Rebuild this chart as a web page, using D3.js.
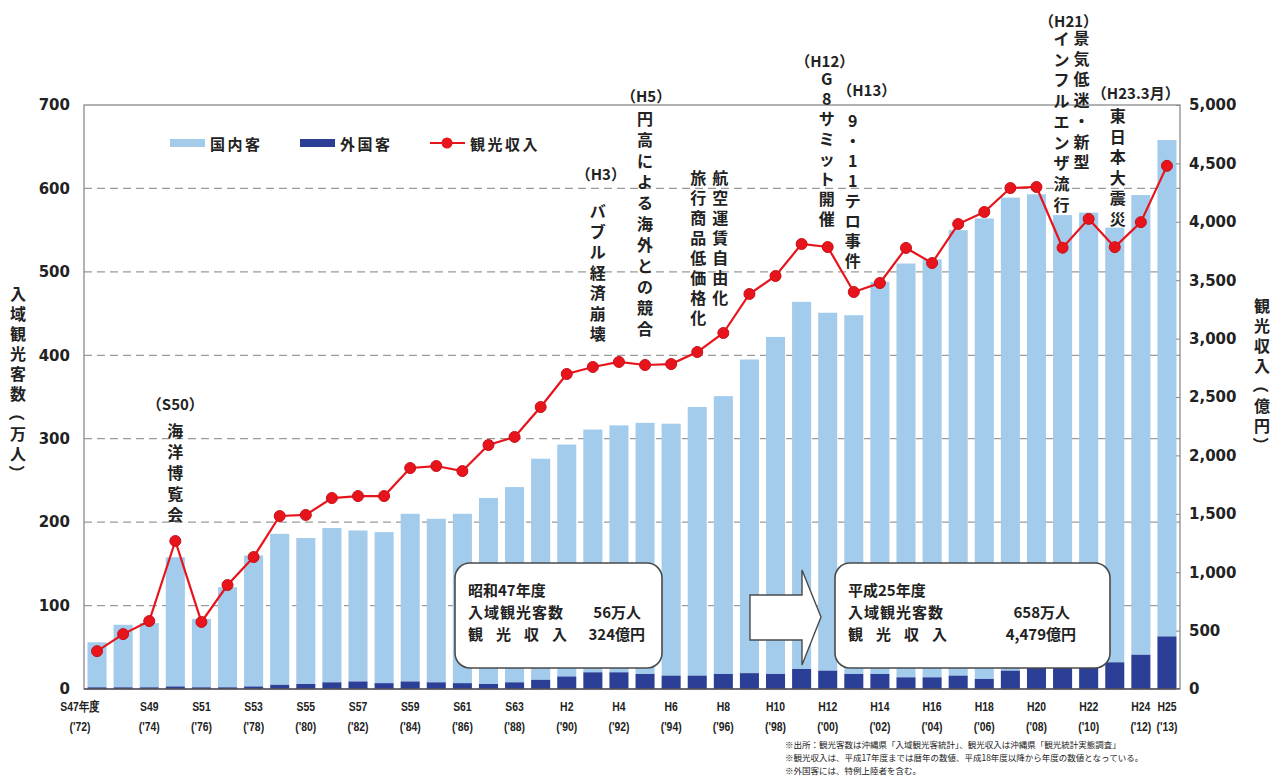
<!DOCTYPE html>
<html>
<head>
<meta charset="utf-8">
<script src="https://cdnjs.cloudflare.com/ajax/libs/d3/7.8.5/d3.min.js"></script>
<style>
body { margin: 0; background: #fff; }
text { font-family: "Noto Sans CJK JP", sans-serif; fill: #222; }
.yAxis text { font-family: "DejaVu Sans", sans-serif; font-weight: bold; font-size: 15px; fill: #222; }
.xText text { font-family: "Liberation Sans", sans-serif; font-weight: bold; font-size: 13px; }
</style>
</head>
<body>
<div id="chart"></div>
<script>
// 年度別 入域観光客数（万人）と観光収入（億円）
var foreign = [2, 2, 2, 3, 2, 2, 3, 5, 6, 8, 9, 7, 9, 8, 7, 6, 8, 11, 15, 20, 20, 18,
  16, 16, 18, 19, 18, 24, 22, 18, 18, 14, 14, 16, 12, 22, 26, 26, 28, 32, 41, 63];
var domestic = [54, 75, 77, 155, 82, 120, 157, 181, 175, 185, 181, 181, 201, 196, 203, 223,
  234, 265, 278, 291, 296, 301, 302, 322, 333, 376, 404, 440, 429, 430, 470, 496, 501,
  534, 552, 567, 567, 542, 543, 521, 551, 595];
var revenue = [324, 470, 582, 1267, 574, 890, 1130, 1481, 1490, 1635, 1652, 1652, 1892, 1909,
  1866, 2089, 2158, 2414, 2697, 2757, 2800, 2774, 2782, 2885, 3048, 3382, 3536, 3810, 3784,
  3399, 3476, 3776, 3647, 3981, 4084, 4289, 4298, 3778, 4025, 3783, 3997, 4479];

var tickIdx = [0, 2, 4, 6, 8, 10, 12, 14, 16, 18, 20, 22, 24, 26, 28, 30, 32, 34, 36, 38, 40, 41];
var tickTop = ["S47年度", "S49", "S51", "S53", "S55", "S57", "S59", "S61", "S63", "H2", "H4",
  "H6", "H8", "H10", "H12", "H14", "H16", "H18", "H20", "H22", "H24", "H25"];
var tickBot = ["('72)", "('74)", "('76)", "('78)", "('80)", "('82)", "('84)", "('86)", "('88)",
  "('90)", "('92)", "('94)", "('96)", "('98)", "('00)", "('02)", "('04)", "('06)", "('08)",
  "('10)", "('12)", "('13)"];

var leftTicks = [0, 100, 200, 300, 400, 500, 600, 700];
var rightTicks = [0, 500, 1000, 1500, 2000, 2500, 3000, 3500, 4000, 4500, 5000];

var eventIdx = [3, 19, 21, 23, 28, 29, 37, 39];
var eventLabels = ["（S50）", "（H3）", "（H5）", "", "（H12）", "（H13）", "（H21）", "（H23.3月）"];
var eventLines = [["海洋博覧会"], ["バブル経済崩壊"], ["円高による海外との競合"],
  ["旅行商品低価格化", "航空運賃自由化"], ["G8サミット開催"], ["9・11テロ事件"],
  ["インフルエンザ流行", "景気低迷・新型"], ["東日本大震災"]];

var legendNames = ["国内客", "外国客", "観光収入"];
var boxTitles = ["昭和47年度", "平成25年度"];
var boxVisitors = ["56万人", "658万人"];
var boxRevenue = ["324億円", "4,479億円"];
var notes = [
  "※出所：観光客数は沖縄県「入域観光客統計」、観光収入は沖縄県「観光統計実態調査」",
  "※観光収入は、平成17年度までは暦年の数値、平成18年度以降から年度の数値となっている。",
  "※外国客には、特例上陸者を含む。"
];

var width = 1281;
var height = 784;
var padL = 84, padR = 1180, padT = 105, padB = 689;
var lightBlue = "#a2cbec", darkBlue = "#2b3f96", red = "#e8141c";

var svg = d3.select("#chart").append("svg")
  .attr("width", width)
  .attr("height", height);

var x = d3.scaleBand()
  .domain(d3.range(domestic.length))
  .range([padL, padR])
  .paddingInner(0.27)
  .paddingOuter(0.135);
var yL = d3.scaleLinear().domain([0, 700]).range([padB, padT]);
var yR = d3.scaleLinear().domain([0, 5000]).range([padB, padT]);

// grid
svg.append("g").selectAll("line")
  .data(leftTicks.slice(1, -1))
  .enter().append("line")
  .attr("x1", padL).attr("x2", padR)
  .attr("y1", function(d) { return yL(d); })
  .attr("y2", function(d) { return yL(d); })
  .attr("stroke", "#9a9a9a")
  .attr("stroke-width", 1.2)
  .attr("stroke-dasharray", "8,5");

svg.append("rect")
  .attr("x", padL).attr("y", padT)
  .attr("width", padR - padL).attr("height", padB - padT)
  .attr("fill", "none").attr("stroke", "#8a8a8a").attr("stroke-width", 1.3);

// bars
var bars = svg.append("g");
bars.selectAll(".dom").data(domestic).enter().append("rect")
  .attr("x", function(d, i) { return x(i); })
  .attr("width", x.bandwidth())
  .attr("y", function(d, i) { return yL(d + foreign[i]); })
  .attr("height", function(d, i) { return yL(foreign[i]) - yL(d + foreign[i]); })
  .attr("fill", lightBlue);
bars.selectAll(".for").data(foreign).enter().append("rect")
  .attr("x", function(d, i) { return x(i); })
  .attr("width", x.bandwidth())
  .attr("y", function(d) { return yL(d); })
  .attr("height", function(d) { return padB - yL(d); })
  .attr("fill", darkBlue);

svg.append("line")
  .attr("x1", padL).attr("x2", padR)
  .attr("y1", padB).attr("y2", padB)
  .attr("stroke", "#555").attr("stroke-width", 1.5);

// axes
var yAxisL = d3.axisLeft(yL).tickValues(leftTicks).tickSize(0).tickPadding(14);
svg.append("g").attr("class", "yAxis")
  .attr("transform", "translate(" + padL + ",0)")
  .call(yAxisL)
  .call(function(g) { g.select(".domain").remove(); });

var yAxisR = d3.axisRight(yR).tickValues(rightTicks).tickSizeInner(-4).tickSizeOuter(0)
  .tickPadding(9).tickFormat(d3.format(","));
svg.append("g").attr("class", "yAxis")
  .attr("transform", "translate(" + padR + ",0)")
  .call(yAxisR)
  .call(function(g) {
    g.select(".domain").remove();
    g.selectAll("line").attr("stroke", "#888");
  });

var xt = svg.append("g").attr("class", "xText");
tickIdx.forEach(function(idx, k) {
  var cx = x(idx) + x.bandwidth() / 2;
  if (k === 0) cx -= 17;
  xt.append("text").attr("transform", "translate(" + cx + ",711) scale(0.8,1)")
    .attr("text-anchor", "middle").text(tickTop[k]);
  xt.append("text").attr("transform", "translate(" + cx + ",731) scale(0.8,1)")
    .attr("text-anchor", "middle").text(tickBot[k]);
});

// vertical text, one character after another
function vText(g, cx, y0, str, step, size) {
  str.split("").forEach(function(ch, i) {
    var cy = y0 + i * step;
    var t = g.append("text")
      .attr("x", cx).attr("y", cy)
      .attr("text-anchor", "middle")
      .attr("dominant-baseline", "central")
      .attr("font-size", size)
      .attr("font-weight", "bold")
      .text(ch);
    if ("（）".indexOf(ch) >= 0) t.attr("transform", "rotate(90," + cx + "," + cy + ")");
  });
}

vText(svg, 18, 293, "入域観光客数（万人）", 20, 16);
vText(svg, 1262, 305, "観光収入（億円）", 20, 16);

// events
var labelPos = [[0, 403], [8, 173], [1, 95], null, [-3, 60], [13, 89], [6, 20], [21, 92]];
var colPos = [[[0, 430]], [[5, 210]], [[0, 118]], [[1, 177], [23, 177]], [[-1, 78]],
  [[-1, 120]], [[-1, 38], [19, 37]], [[3, 115]]];
var colStep = [21, 20.5, 21, 20, 20, 20, 20.7, 20.5];
var ev = svg.append("g");
eventIdx.forEach(function(idx, k) {
  var cx = x(idx) + x.bandwidth() / 2;
  if (labelPos[k]) {
    ev.append("text")
      .attr("x", cx + labelPos[k][0]).attr("y", labelPos[k][1])
      .attr("text-anchor", "middle").attr("dominant-baseline", "central")
      .attr("font-size", 15).attr("font-weight", "bold")
      .text(eventLabels[k]);
  }
  eventLines[k].forEach(function(line, j) {
    vText(ev, cx + colPos[k][j][0], colPos[k][j][1], line, colStep[k], 16);
  });
});

// revenue line
var line = d3.line()
  .x(function(d, i) { return x(i) + x.bandwidth() / 2; })
  .y(function(d) { return yR(d); });
svg.append("path")
  .datum(revenue)
  .attr("d", line)
  .attr("fill", "none")
  .attr("stroke", red)
  .attr("stroke-width", 2.2);
svg.append("g").selectAll("circle")
  .data(revenue).enter().append("circle")
  .attr("cx", function(d, i) { return x(i) + x.bandwidth() / 2; })
  .attr("cy", function(d) { return yR(d); })
  .attr("r", 5.5)
  .attr("fill", red)
  .attr("stroke", "#c8101a")
  .attr("stroke-width", 1);

// legend
var lg = svg.append("g");
lg.append("rect").attr("x", 170).attr("y", 139).attr("width", 35).attr("height", 8).attr("fill", lightBlue);
lg.append("rect").attr("x", 300).attr("y", 139).attr("width", 35).attr("height", 8).attr("fill", darkBlue);
lg.append("line").attr("x1", 430).attr("x2", 465).attr("y1", 143).attr("y2", 143)
  .attr("stroke", red).attr("stroke-width", 2.2);
lg.append("circle").attr("cx", 447).attr("cy", 143).attr("r", 5.5).attr("fill", red);
[210, 340, 470].forEach(function(lx, k) {
  lg.append("text").attr("x", lx).attr("y", 143)
    .attr("dominant-baseline", "central")
    .attr("font-size", 15).attr("font-weight", "bold")
    .attr("letter-spacing", 2.5)
    .text(legendNames[k]);
});

// summary boxes
var boxX = [[455, 662], [835, 1110]];
var valueEnd = [[641, 645], [1070, 1076]];
boxX.forEach(function(b, k) {
  var g = svg.append("g");
  g.append("rect")
    .attr("x", b[0]).attr("y", 563)
    .attr("width", b[1] - b[0]).attr("height", 105)
    .attr("rx", 15)
    .attr("fill", "#fff")
    .attr("stroke", "#4a4a4a")
    .attr("stroke-width", 1.6);
  var tx = b[0] + 13;
  g.append("text").attr("x", tx).attr("y", 596).attr("font-size", 15).attr("font-weight", "bold")
    .text(boxTitles[k]);
  g.append("text").attr("x", tx).attr("y", 618).attr("font-size", 15).attr("font-weight", "bold")
    .attr("letter-spacing", 1).text("入域観光客数");
  g.append("text").attr("x", valueEnd[k][0]).attr("y", 618).attr("font-size", 15).attr("font-weight", "bold")
    .attr("text-anchor", "end").text(boxVisitors[k]);
  g.append("text").attr("x", tx).attr("y", 640).attr("font-size", 15).attr("font-weight", "bold")
    .attr("letter-spacing", 13).text("観光収入");
  g.append("text").attr("x", valueEnd[k][1]).attr("y", 640).attr("font-size", 15).attr("font-weight", "bold")
    .attr("text-anchor", "end").text(boxRevenue[k]);
});

svg.append("polygon")
  .attr("points", "750,595 802,595 802,570 821,617 802,665 802,640 750,640")
  .attr("fill", "#fff")
  .attr("stroke", "#4a4a4a")
  .attr("stroke-width", 1.4);

// notes
svg.append("g").selectAll("text")
  .data(notes).enter().append("text")
  .attr("x", 785)
  .attr("y", function(d, i) { return 748 + i * 13; })
  .attr("font-size", 8.5)
  .attr("fill", "#555")
  .text(function(d) { return d; });
</script>
</body>
</html>
